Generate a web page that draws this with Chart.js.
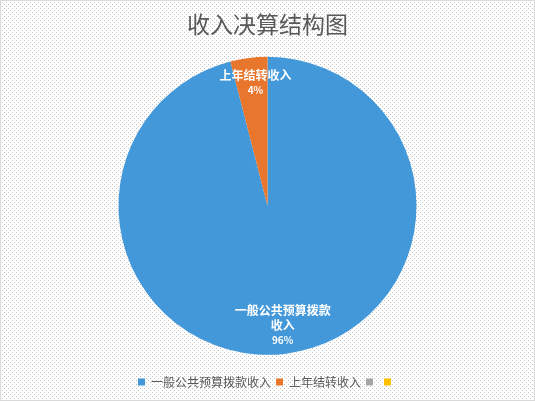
<!DOCTYPE html>
<html>
<head>
<meta charset="utf-8">
<script src="https://cdn.jsdelivr.net/npm/chart.js@4"></script>
<style>
  html, body { margin: 0; padding: 0; background: #fff; }
  #wrap { width: 535px; height: 401px; }
</style>
</head>
<body>
<div id="wrap"><canvas id="chart"></canvas></div>
<script>
// data
const labels = ["一般公共预算拨款收入", "上年结转收入", "", ""];
const values = [96, 4, 0, 0];
const colors = ["#4398da", "#e8762c", "#a5a5a5", "#ffc000"];
const sliceLabels = [["一般公共预算拨款", "收入"], ["上年结转收入"]];

// dotted background like the original
function dotPattern(ctx) {
  const c = document.createElement('canvas');
  c.width = 4; c.height = 4;
  const p = c.getContext('2d');
  p.fillStyle = '#ffffff';
  p.fillRect(0, 0, 4, 4);
  p.fillStyle = '#c4c4c4';
  p.fillRect(0, 0, 1, 1);
  p.fillRect(2, 2, 1, 1);
  return ctx.createPattern(c, 'repeat');
}

const bgPlugin = {
  id: 'bg',
  beforeDraw(chart) {
    const ctx = chart.ctx;
    ctx.save();
    ctx.fillStyle = dotPattern(ctx);
    ctx.fillRect(0, 0, chart.width, chart.height);
    ctx.strokeStyle = '#d9d9d9';
    ctx.strokeRect(0.5, 0.5, chart.width - 1, chart.height - 1);
    ctx.restore();
  }
};

// labels inside slices
const labelPlugin = {
  id: 'sliceText',
  afterDatasetsDraw(chart) {
    const ctx = chart.ctx;
    const meta = chart.getDatasetMeta(0);
    const total = values.reduce((a, b) => a + b, 0);
    ctx.save();
    ctx.fillStyle = '#ffffff';
    ctx.textAlign = 'center';
    ctx.textBaseline = 'middle';
    meta.data.forEach((arc, i) => {
      if (!values[i]) return;
      const mid = (arc.startAngle + arc.endAngle) / 2;
      const r = i === 0 ? arc.outerRadius * 0.81 : arc.outerRadius * 0.86;
      let x = arc.x + Math.cos(mid) * r;
      let y = arc.y + Math.sin(mid) * r;
      if (i === 1) { x = x + 4; y = y + 4; }
      const lines = sliceLabels[i];
      const pct = Math.round(values[i] / total * 100) + '%';
      const lh = 15;
      const n = lines.length + 1;
      let y0 = y - (n - 1) * lh / 2;
      ctx.font = 'bold 12px "Noto Sans CJK SC", sans-serif';
      lines.forEach((t, k) => ctx.fillText(t, x, y0 + k * lh));
      ctx.font = 'bold 10px "Noto Sans CJK SC", sans-serif';
      ctx.fillText(pct, x, y0 + lines.length * lh);
    });
    ctx.restore();
  }
};

new Chart(document.getElementById('chart'), {
  type: 'pie',
  data: {
    labels: labels,
    datasets: [{
      data: values,
      backgroundColor: colors,
      borderWidth: 0,
      radius: 149
    }]
  },
  options: {
    responsive: true,
    maintainAspectRatio: false,
    animation: false,
    layout: { padding: { top: 0, bottom: 3 } },
    plugins: {
      title: {
        display: true,
        text: '收入决算结构图',
        color: '#595959',
        font: { size: 23, family: '"Noto Sans CJK SC", sans-serif', weight: 'normal' },
        padding: { top: 10, bottom: 3 }
      },
      legend: {
        position: 'bottom',
        labels: {
          color: '#595959',
          boxWidth: 7,
          boxHeight: 7,
          padding: 5,
          font: { size: 12, family: '"Noto Sans CJK SC", sans-serif' }
        }
      },
      tooltip: { enabled: false }
    }
  },
  plugins: [bgPlugin, labelPlugin]
});
</script>
</body>
</html>
